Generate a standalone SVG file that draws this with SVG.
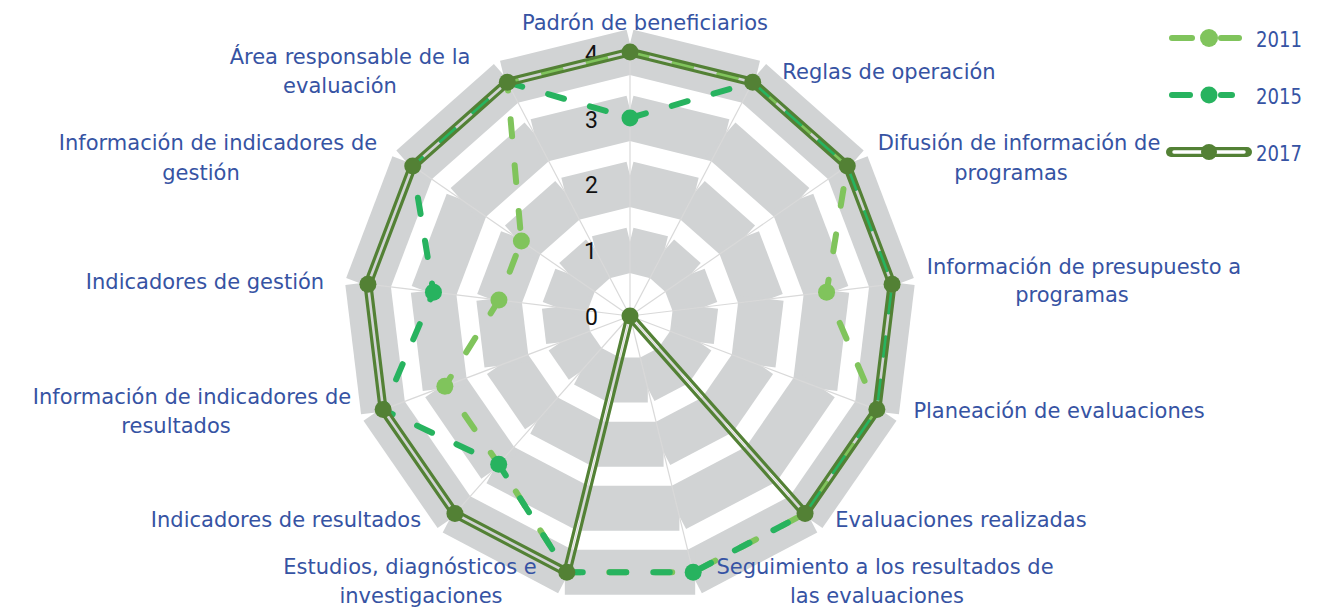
<svg xmlns="http://www.w3.org/2000/svg" width="1334" height="609" viewBox="0 0 1334 609">
<style>
.band{stroke:#D1D3D4;stroke-width:45;stroke-linecap:butt;fill:none}
.spoke line{stroke:#D9D9D9;stroke-width:1.2}
.lab{font-family:"DejaVu Sans","Liberation Sans",sans-serif;font-size:21px;fill:#3653A3;text-anchor:middle}
.yr{font-family:"DejaVu Sans","Liberation Sans",sans-serif;font-size:21px;fill:#3653A3}
.ax{font-family:Roboto,"Liberation Sans",sans-serif;font-size:23px;fill:#111111;text-anchor:end}
.s11{fill:none;stroke:#80C45C;stroke-width:6;stroke-linecap:round;stroke-linejoin:round;stroke-dasharray:17 29}
.s15{fill:none;stroke:#27B35F;stroke-width:6;stroke-linecap:round;stroke-linejoin:round;stroke-dasharray:16.5 27}
.s17{fill:none;stroke:#538135;stroke-width:9;stroke-linejoin:round}
.l11{stroke:#80C45C;stroke-width:6;stroke-linecap:round}
.l15{stroke:#27B35F;stroke-width:6;stroke-linecap:round}
.m11{fill:#80C45C}
.m15{fill:#27B35F}
.m17{fill:#538135}
</style>
<defs>
<g id="edge" transform="rotate(13.846)">
<line x1="-17.8" y1="-64.08" x2="17.8" y2="-64.08"/>
<line x1="-33.59" y1="-128.16" x2="33.59" y2="-128.16"/>
<line x1="-49.39" y1="-192.25" x2="49.39" y2="-192.25"/>
<line x1="-65.18" y1="-256.33" x2="65.18" y2="-256.33"/>
</g>
<path id="p17" d="M630,52 L752.69,82.24 L847.27,166.03 L892.08,284.18 L876.85,409.61 L805.06,513.61 L630,316 L566.82,572.33 L454.94,513.61 L383.15,409.61 L367.92,284.18 L412.73,166.03 L507.31,82.24 Z"/>
<mask id="gap17" maskUnits="userSpaceOnUse" x="0" y="0" width="1334" height="609">
<rect x="0" y="0" width="1334" height="609" fill="#fff"/>
<use href="#p17" fill="none" stroke="#000" stroke-width="2.6" stroke-linejoin="round"/>
</mask>
</defs>
<rect x="0" y="0" width="1334" height="609" fill="#fff"/>
<g id="grid">
<g class="band" transform="translate(630,316)">
<use href="#edge" transform="rotate(0)"/>
<use href="#edge" transform="rotate(27.6923)"/>
<use href="#edge" transform="rotate(55.3846)"/>
<use href="#edge" transform="rotate(83.0769)"/>
<use href="#edge" transform="rotate(110.7692)"/>
<use href="#edge" transform="rotate(138.4615)"/>
<use href="#edge" transform="rotate(166.1538)"/>
<use href="#edge" transform="rotate(193.8462)"/>
<use href="#edge" transform="rotate(221.5385)"/>
<use href="#edge" transform="rotate(249.2308)"/>
<use href="#edge" transform="rotate(276.9231)"/>
<use href="#edge" transform="rotate(304.6154)"/>
<use href="#edge" transform="rotate(332.3077)"/>
</g>
<g class="spoke">
<line x1="630" y1="316" x2="630" y2="52"/>
<line x1="630" y1="316" x2="752.69" y2="82.24"/>
<line x1="630" y1="316" x2="847.27" y2="166.03"/>
<line x1="630" y1="316" x2="892.08" y2="284.18"/>
<line x1="630" y1="316" x2="876.85" y2="409.61"/>
<line x1="630" y1="316" x2="805.06" y2="513.61"/>
<line x1="630" y1="316" x2="693.18" y2="572.33"/>
<line x1="630" y1="316" x2="566.82" y2="572.33"/>
<line x1="630" y1="316" x2="454.94" y2="513.61"/>
<line x1="630" y1="316" x2="383.15" y2="409.61"/>
<line x1="630" y1="316" x2="367.92" y2="284.18"/>
<line x1="630" y1="316" x2="412.73" y2="166.03"/>
<line x1="630" y1="316" x2="507.31" y2="82.24"/>
</g>
</g>
<g id="axis-values">
<text class="ax" x="598" y="62">4</text>
<text class="ax" x="598" y="128">3</text>
<text class="ax" x="598" y="193">2</text>
<text class="ax" x="597" y="259">1</text>
<text class="ax" x="598" y="325">0</text>
</g>
<g id="connectors">
<g id="series-2011">
<path class="s11" d="M630,52 L752.69,82.24 L847.27,166.03 L826.56,292.13 L876.85,409.61 L805.06,513.61 L693.18,572.33 L566.82,572.33 L498.70,464.20 L444.87,386.21 L498.96,300.09 L521.37,241.02 L507.31,82.24 Z"/>
<circle class="m11" cx="826.56" cy="292.13" r="8.5"/>
<circle class="m11" cx="444.87" cy="386.21" r="8.5"/>
<circle class="m11" cx="498.96" cy="300.09" r="8.5"/>
<circle class="m11" cx="521.37" cy="241.02" r="8.5"/>
</g>
<g id="series-2015">
<path class="s15" d="M630,118 L752.69,82.24 L847.27,166.03 L892.08,284.18 L876.85,409.61 L805.06,513.61 L693.18,572.33 L566.82,572.33 L498.70,464.20 L383.15,409.61 L433.44,292.13 L412.73,166.03 L507.31,82.24 Z"/>
<circle class="m15" cx="630" cy="118" r="8.5"/>
<circle class="m15" cx="693.18" cy="572.33" r="8.5"/>
<circle class="m15" cx="498.70" cy="464.20" r="8.5"/>
<circle class="m15" cx="433.44" cy="292.13" r="8.5"/>
</g>
<g id="series-2017">
<use href="#p17" class="s17" mask="url(#gap17)"/>
<circle class="m17" cx="630" cy="52" r="8.5"/>
<circle class="m17" cx="752.69" cy="82.24" r="8.5"/>
<circle class="m17" cx="847.27" cy="166.03" r="8.5"/>
<circle class="m17" cx="892.08" cy="284.18" r="8.5"/>
<circle class="m17" cx="876.85" cy="409.61" r="8.5"/>
<circle class="m17" cx="805.06" cy="513.61" r="8.5"/>
<circle class="m17" cx="630" cy="316" r="8.5"/>
<circle class="m17" cx="566.82" cy="572.33" r="8.5"/>
<circle class="m17" cx="454.94" cy="513.61" r="8.5"/>
<circle class="m17" cx="383.15" cy="409.61" r="8.5"/>
<circle class="m17" cx="367.92" cy="284.18" r="8.5"/>
<circle class="m17" cx="412.73" cy="166.03" r="8.5"/>
<circle class="m17" cx="507.31" cy="82.24" r="8.5"/>
</g>
</g>
<g id="labels">
<g id="lab-padron"><text class="lab" x="645" y="30">Padrón de beneficiarios</text></g>
<g id="lab-reglas"><text class="lab" x="889" y="79">Reglas de operación</text></g>
<g id="lab-difusion"><text class="lab" x="1019" y="150">Difusión de información de</text><text class="lab" x="1011" y="180">programas</text></g>
<g id="lab-presupuesto"><text class="lab" x="1084" y="274">Información de presupuesto a</text><text class="lab" x="1072" y="302">programas</text></g>
<g id="lab-planeacion"><text class="lab" x="1059" y="418">Planeación de evaluaciones</text></g>
<g id="lab-evaluaciones"><text class="lab" x="961" y="527">Evaluaciones realizadas</text></g>
<g id="lab-seguimiento"><text class="lab" x="885" y="574">Seguimiento a los resultados de</text><text class="lab" x="877" y="603">las evaluaciones</text></g>
<g id="lab-estudios"><text class="lab" x="410" y="574">Estudios, diagnósticos e</text><text class="lab" x="421" y="603">investigaciones</text></g>
<g id="lab-indres"><text class="lab" x="286" y="527">Indicadores de resultados</text></g>
<g id="lab-infores"><text class="lab" x="192" y="404">Información de indicadores de</text><text class="lab" x="176" y="433">resultados</text></g>
<g id="lab-indges"><text class="lab" x="205" y="289">Indicadores de gestión</text></g>
<g id="lab-infoges"><text class="lab" x="218" y="150">Información de indicadores de</text><text class="lab" x="201" y="180">gestión</text></g>
<g id="lab-area"><text class="lab" x="350" y="64">Área responsable de la</text><text class="lab" x="340" y="93">evaluación</text></g>
</g>
<g id="legend">
<g id="leg-2011">
<line class="l11" x1="1172" y1="38" x2="1192" y2="38"/>
<line class="l11" x1="1221" y1="38" x2="1239" y2="38"/>
<circle class="m11" cx="1209" cy="38" r="9"/>
<text class="yr" x="1256" y="47" textLength="46" lengthAdjust="spacingAndGlyphs">2011</text>
</g>
<g id="leg-2015">
<line class="l15" x1="1172" y1="95" x2="1190" y2="95"/>
<line class="l15" x1="1221" y1="95" x2="1232" y2="95"/>
<circle class="m15" cx="1209" cy="95" r="8.5"/>
<text class="yr" x="1256" y="104" textLength="46" lengthAdjust="spacingAndGlyphs">2015</text>
</g>
<g id="leg-2017">
<line x1="1171" y1="152" x2="1247" y2="152" stroke="#538135" stroke-width="10" stroke-linecap="round"/>
<line x1="1174" y1="152" x2="1244" y2="152" stroke="#fff" stroke-width="3.5" stroke-linecap="round"/>
<circle class="m17" cx="1209" cy="152" r="8"/>
<text class="yr" x="1256" y="161" textLength="46" lengthAdjust="spacingAndGlyphs">2017</text>
</g>
</g>
</svg>
